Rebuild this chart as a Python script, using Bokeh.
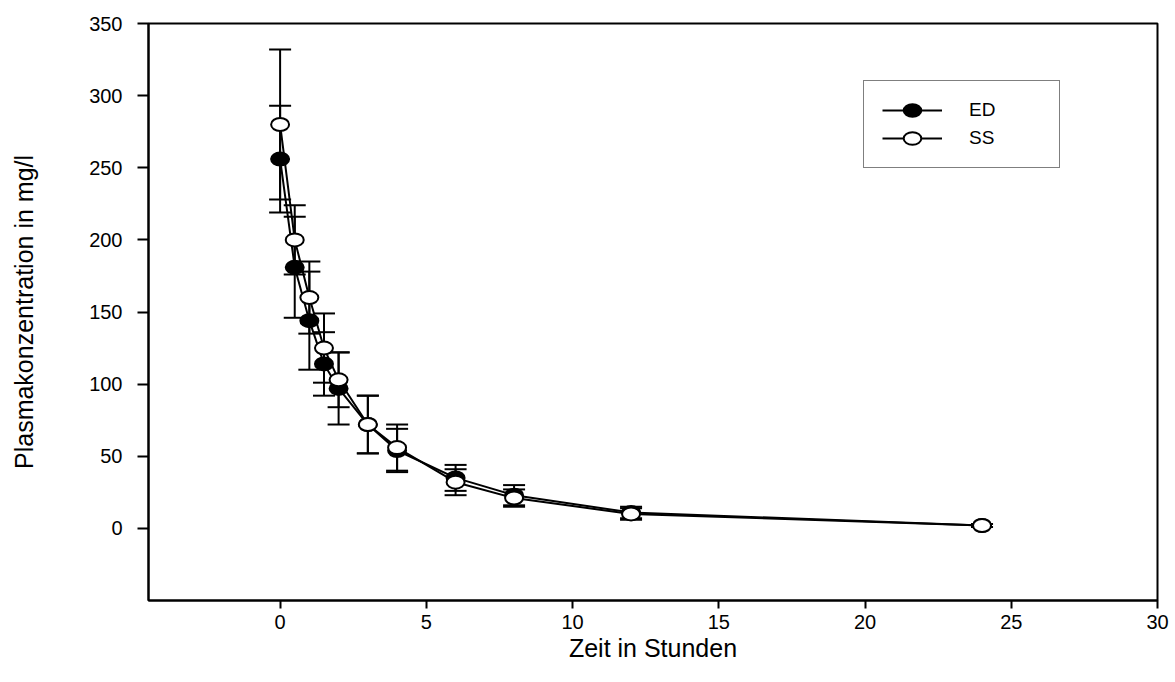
from bokeh.plotting import figure
from bokeh.models import (ColumnDataSource, Whisker, TeeHead, Legend, LegendItem,
                          FixedTicker, Range1d)
from bokeh.embed import file_html
from bokeh.resources import INLINE

# ---- data ----
time_h = [0, 0.5, 1, 1.5, 2, 3, 4, 6, 8, 12, 24]
ed_mean = [256, 181, 144, 114, 97, 72, 54, 35, 23, 11, 2]
ed_sd = [37, 35, 34, 22, 25, 20, 15, 9, 7, 4, 1]
ss_mean = [280, 200, 160, 125, 103, 72, 56, 32, 21, 10, 2]
ss_sd = [52, 24, 25, 24, 19, 20, 16, 9, 6, 4, 1]
series_names = ["ED", "SS"]
x_ticks = [0, 5, 10, 15, 20, 25, 30]
y_ticks = [0, 50, 100, 150, 200, 250, 300, 350]
x_title = "Zeit in Stunden"
y_title = "Plasmakonzentration in mg/l"

FONT = "Liberation Sans"

ed_src = ColumnDataSource(dict(
    t=time_h, m=ed_mean,
    lo=[m - s for m, s in zip(ed_mean, ed_sd)],
    hi=[m + s for m, s in zip(ed_mean, ed_sd)]))
ss_src = ColumnDataSource(dict(
    t=time_h, m=ss_mean,
    lo=[m - s for m, s in zip(ss_mean, ss_sd)],
    hi=[m + s for m, s in zip(ss_mean, ss_sd)]))

p = figure(width=1175, height=682, output_backend="svg", toolbar_location=None,
           x_range=Range1d(-4.5, 30), y_range=Range1d(-50, 350),
           min_border_left=148, min_border_right=18, min_border_top=23,
           min_border_bottom=82)
p.background_fill_color = "white"
p.border_fill_color = "white"
p.outline_line_color = "black"
p.outline_line_width = 2
p.xgrid.visible = False
p.ygrid.visible = False

for ax in (p.xaxis[0], p.yaxis[0]):
    ax.axis_line_width = 2
    ax.axis_line_color = "black"
    ax.major_tick_line_width = 2
    ax.major_tick_line_color = "black"
    ax.minor_tick_line_color = None
    ax.major_tick_in = 0
    ax.major_label_text_font = FONT
    ax.major_label_text_font_size = "20px"
    ax.major_label_text_color = "black"
    ax.axis_label_text_font = FONT
    ax.axis_label_text_font_size = "25px"
    ax.axis_label_text_font_style = "normal"
    ax.axis_label_text_color = "black"

p.xaxis.ticker = FixedTicker(ticks=x_ticks)
p.yaxis.ticker = FixedTicker(ticks=y_ticks)
p.xaxis.major_tick_out = 8
p.yaxis.major_tick_out = 11
p.xaxis.major_label_standoff = 6
p.yaxis.major_label_standoff = 15
p.xaxis.axis_label = x_title
p.yaxis.axis_label = y_title
p.xaxis.axis_label_standoff = 2
p.yaxis.axis_label_standoff = 48

# error bars
for src in (ed_src, ss_src):
    w = Whisker(source=src, base="t", lower="lo", upper="hi",
                line_color="black", line_width=2,
                upper_head=TeeHead(size=22, line_color="black", line_width=2),
                lower_head=TeeHead(size=22, line_color="black", line_width=2))
    p.add_layout(w)

# lines and markers
ed_line = p.line("t", "m", source=ed_src, line_color="black", line_width=2)
ss_line = p.line("t", "m", source=ss_src, line_color="black", line_width=2)
ed_mk = p.ellipse("t", "m", source=ed_src, width=18, height=13,
                  width_units="screen", height_units="screen",
                  fill_color="black", line_color="black", line_width=2)
ss_mk = p.ellipse("t", "m", source=ss_src, width=18, height=13,
                  width_units="screen", height_units="screen",
                  fill_color="white", line_color="black", line_width=2)

legend = Legend(items=[LegendItem(label=series_names[0], renderers=[ed_line, ed_mk]),
                       LegendItem(label=series_names[1], renderers=[ss_line, ss_mk])],
                location=(715, 432), orientation="vertical",
                glyph_width=60, glyph_height=22, spacing=6, padding=18,
                label_standoff=27, label_width=72, margin=0,
                label_text_font=FONT, label_text_font_size="19px",
                label_text_color="black",
                border_line_color="black", border_line_width=1.5,
                background_fill_color="white", background_fill_alpha=1)
p.add_layout(legend, "center")

open("out.html", "w").write(file_html(p, INLINE))
